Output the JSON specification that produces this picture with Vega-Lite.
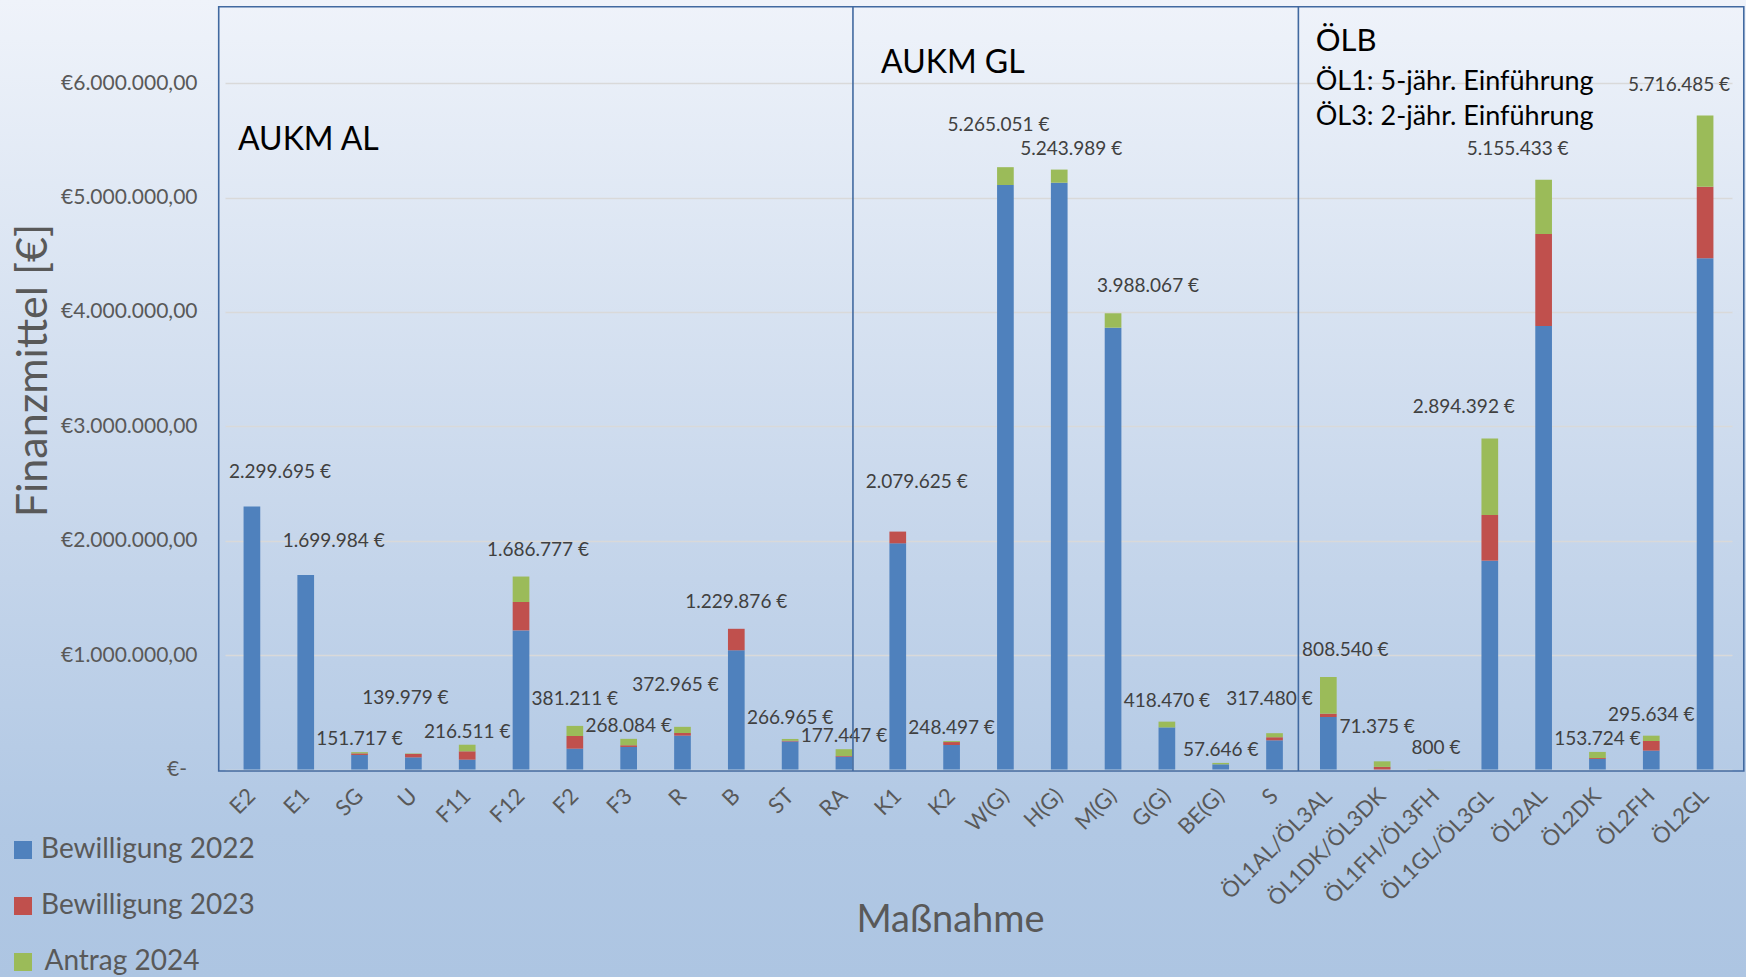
{
  "$schema": "https://vega.github.io/schema/vega-lite/v6.json",
  "width": 1746,
  "height": 977,
  "autosize": {"type": "none"},
  "padding": 0,
  "background": "#c6d6eb",
  "config": {
    "view": {
      "fill": {"gradient": "linear", "x1": 0, "y1": 0, "x2": 0, "y2": 1,
        "stops": [{"offset": 0, "color": "#eff3fa"}, {"offset": 0.55, "color": "#c6d6eb"}, {"offset": 0.85, "color": "#b1c8e4"}, {"offset": 1, "color": "#adc5e2"}]},
      "stroke": null
    },
    "locale": {"number": {"decimal": ",", "thousands": ".", "grouping": [3], "currency": ["", " €"]}},
    "font": "Lato",
    "text": {"baseline": "middle", "align": "center", "fontSize": 19, "fill": "#404040"}
  },
  "datasets": {
    "one": [{}],
    "bars": [
      {"m": "E2", "s": "Bewilligung 2022", "i": 1, "v": 2299695},
      {"m": "E1", "s": "Bewilligung 2022", "i": 1, "v": 1699984},
      {"m": "SG", "s": "Bewilligung 2022", "i": 1, "v": 127000},
      {"m": "SG", "s": "Bewilligung 2023", "i": 2, "v": 14000},
      {"m": "SG", "s": "Antrag 2024", "i": 3, "v": 10717},
      {"m": "U", "s": "Bewilligung 2022", "i": 1, "v": 106000},
      {"m": "U", "s": "Bewilligung 2023", "i": 2, "v": 30000},
      {"m": "U", "s": "Antrag 2024", "i": 3, "v": 3979},
      {"m": "F11", "s": "Bewilligung 2022", "i": 1, "v": 86000},
      {"m": "F11", "s": "Bewilligung 2023", "i": 2, "v": 73000},
      {"m": "F11", "s": "Antrag 2024", "i": 3, "v": 57511},
      {"m": "F12", "s": "Bewilligung 2022", "i": 1, "v": 1216000},
      {"m": "F12", "s": "Bewilligung 2023", "i": 2, "v": 248000},
      {"m": "F12", "s": "Antrag 2024", "i": 3, "v": 222777},
      {"m": "F2", "s": "Bewilligung 2022", "i": 1, "v": 182000},
      {"m": "F2", "s": "Bewilligung 2023", "i": 2, "v": 111000},
      {"m": "F2", "s": "Antrag 2024", "i": 3, "v": 88211},
      {"m": "F3", "s": "Bewilligung 2022", "i": 1, "v": 197000},
      {"m": "F3", "s": "Bewilligung 2023", "i": 2, "v": 15000},
      {"m": "F3", "s": "Antrag 2024", "i": 3, "v": 56084},
      {"m": "R", "s": "Bewilligung 2022", "i": 1, "v": 296000},
      {"m": "R", "s": "Bewilligung 2023", "i": 2, "v": 23000},
      {"m": "R", "s": "Antrag 2024", "i": 3, "v": 53965},
      {"m": "B", "s": "Bewilligung 2022", "i": 1, "v": 1042000},
      {"m": "B", "s": "Bewilligung 2023", "i": 2, "v": 187876},
      {"m": "ST", "s": "Bewilligung 2022", "i": 1, "v": 245000},
      {"m": "ST", "s": "Bewilligung 2023", "i": 2, "v": 6000},
      {"m": "ST", "s": "Antrag 2024", "i": 3, "v": 15965},
      {"m": "RA", "s": "Bewilligung 2022", "i": 1, "v": 112000},
      {"m": "RA", "s": "Bewilligung 2023", "i": 2, "v": 6000},
      {"m": "RA", "s": "Antrag 2024", "i": 3, "v": 59447},
      {"m": "K1", "s": "Bewilligung 2022", "i": 1, "v": 1977000},
      {"m": "K1", "s": "Bewilligung 2023", "i": 2, "v": 102625},
      {"m": "K2", "s": "Bewilligung 2022", "i": 1, "v": 214000},
      {"m": "K2", "s": "Bewilligung 2023", "i": 2, "v": 26000},
      {"m": "K2", "s": "Antrag 2024", "i": 3, "v": 8497},
      {"m": "W(G)", "s": "Bewilligung 2022", "i": 1, "v": 5109000},
      {"m": "W(G)", "s": "Antrag 2024", "i": 3, "v": 156051},
      {"m": "H(G)", "s": "Bewilligung 2022", "i": 1, "v": 5129000},
      {"m": "H(G)", "s": "Antrag 2024", "i": 3, "v": 114989},
      {"m": "M(G)", "s": "Bewilligung 2022", "i": 1, "v": 3862000},
      {"m": "M(G)", "s": "Antrag 2024", "i": 3, "v": 126067},
      {"m": "G(G)", "s": "Bewilligung 2022", "i": 1, "v": 368000},
      {"m": "G(G)", "s": "Antrag 2024", "i": 3, "v": 50470},
      {"m": "BE(G)", "s": "Bewilligung 2022", "i": 1, "v": 45000},
      {"m": "BE(G)", "s": "Antrag 2024", "i": 3, "v": 12646},
      {"m": "S", "s": "Bewilligung 2022", "i": 1, "v": 255000},
      {"m": "S", "s": "Bewilligung 2023", "i": 2, "v": 27000},
      {"m": "S", "s": "Antrag 2024", "i": 3, "v": 35480},
      {"m": "ÖL1AL/ÖL3AL", "s": "Bewilligung 2022", "i": 1, "v": 459000},
      {"m": "ÖL1AL/ÖL3AL", "s": "Bewilligung 2023", "i": 2, "v": 29000},
      {"m": "ÖL1AL/ÖL3AL", "s": "Antrag 2024", "i": 3, "v": 320540},
      {"m": "ÖL1DK/ÖL3DK", "s": "Bewilligung 2023", "i": 2, "v": 23000},
      {"m": "ÖL1DK/ÖL3DK", "s": "Antrag 2024", "i": 3, "v": 48375},
      {"m": "ÖL1FH/ÖL3FH", "s": "Antrag 2024", "i": 3, "v": 800},
      {"m": "ÖL1GL/ÖL3GL", "s": "Bewilligung 2022", "i": 1, "v": 1825500},
      {"m": "ÖL1GL/ÖL3GL", "s": "Bewilligung 2023", "i": 2, "v": 399000},
      {"m": "ÖL1GL/ÖL3GL", "s": "Antrag 2024", "i": 3, "v": 669892},
      {"m": "ÖL2AL", "s": "Bewilligung 2022", "i": 1, "v": 3877000},
      {"m": "ÖL2AL", "s": "Bewilligung 2023", "i": 2, "v": 804000},
      {"m": "ÖL2AL", "s": "Antrag 2024", "i": 3, "v": 474433},
      {"m": "ÖL2DK", "s": "Bewilligung 2022", "i": 1, "v": 92000},
      {"m": "ÖL2DK", "s": "Bewilligung 2023", "i": 2, "v": 8000},
      {"m": "ÖL2DK", "s": "Antrag 2024", "i": 3, "v": 53724},
      {"m": "ÖL2FH", "s": "Bewilligung 2022", "i": 1, "v": 165000},
      {"m": "ÖL2FH", "s": "Bewilligung 2023", "i": 2, "v": 84000},
      {"m": "ÖL2FH", "s": "Antrag 2024", "i": 3, "v": 46634},
      {"m": "ÖL2GL", "s": "Bewilligung 2022", "i": 1, "v": 4468000},
      {"m": "ÖL2GL", "s": "Bewilligung 2023", "i": 2, "v": 627000},
      {"m": "ÖL2GL", "s": "Antrag 2024", "i": 3, "v": 621485}
    ]
  },
  "layer": [
    {
      "data": {"name": "bars"},
      "mark": {"type": "bar"},
      "encoding": {
        "x": {
          "field": "m", "type": "nominal",
          "scale": {
            "domain": ["E2", "E1", "SG", "U", "F11", "F12", "F2", "F3", "R", "B", "ST", "RA", "K1", "K2", "W(G)", "H(G)", "M(G)", "G(G)", "BE(G)", "S", "ÖL1AL/ÖL3AL", "ÖL1DK/ÖL3DK", "ÖL1FH/ÖL3FH", "ÖL1GL/ÖL3GL", "ÖL2AL", "ÖL2DK", "ÖL2FH", "ÖL2GL"],
            "range": [225, 1732],
            "paddingInner": 0.69, "paddingOuter": 0.345, "align": 0.5
          },
          "axis": {
            "orient": "bottom", "offset": -206, "title": "Maßnahme",
            "titleFontSize": 38, "titleFontWeight": "normal", "titleColor": "#595959",
            "titleX": 950, "titleY": 149, "titleAlign": "center", "titleBaseline": "middle", "titleAnchor": null,
            "labelAngle": -45, "labelAlign": "right", "labelBaseline": "middle",
            "labelFontSize": 22, "labelColor": "#595959", "labelPadding": 21,
            "ticks": false, "domain": false, "grid": false, "labelOverlap": false
          }
        },
        "y": {
          "field": "v", "type": "quantitative", "stack": "zero",
          "scale": {"domain": [-1813800, 6726400], "nice": false, "zero": false},
          "axis": {
            "orient": "left", "offset": -225,
            "values": [0, 1000000, 2000000, 3000000, 4000000, 5000000, 6000000],
            "labelExpr": "datum.value == 0 ? '€-\u2002\u200b' : '€' + format(datum.value, ',.2f')",
            "labelFontSize": 21, "labelColor": "#595959", "labelPadding": 1535,
            "tickSize": -1507, "tickColor": "#d9d9d9", "tickWidth": 1.5,
            "domain": false, "grid": false, "zindex": 0,
            "title": "Finanzmittel [€]", "titleFontSize": 43, "titleFontWeight": "normal", "titleColor": "#595959",
            "titleX": -192, "titleY": 370, "titleAngle": -90, "titleAlign": "center", "titleBaseline": "middle", "titleAnchor": null
          }
        },
        "color": {
          "field": "s", "type": "nominal",
          "scale": {"domain": ["Bewilligung 2022", "Bewilligung 2023", "Antrag 2024"], "range": ["#4f81bd", "#c0504d", "#9bbb59"]},
          "legend": {
            "orient": "none", "legendX": 9, "legendY": 836, "title": null, "direction": "vertical",
            "symbolType": "square", "symbolSize": 324, "symbolStrokeWidth": 0, "symbolOpacity": 1,
            "labelExpr": "datum.label == 'Antrag 2024' ? '\u200b\u2009Antrag 2024' : datum.label",
            "labelFontSize": 28, "labelColor": "#595959", "labelOffset": 4, "labelLimit": 500, "rowPadding": 28, "padding": 0
          }
        },
        "order": {"field": "i", "type": "quantitative", "sort": "ascending"}
      }
    },
    {
      "data": {"name": "bars"},
      "transform": [{"filter": {"field": "m", "oneOf": ["SG", "F11", "F3", "RA", "K2", "BE(G)", "ÖL2DK"]}}],
      "mark": {"type": "text", "dy": -13},
      "encoding": {
        "x": {"field": "m", "type": "nominal"},
        "y": {"aggregate": "sum", "field": "v", "type": "quantitative"},
        "text": {"aggregate": "sum", "field": "v", "type": "quantitative", "format": "$,d"}
      }
    },
    {
      "data": {"name": "bars"},
      "transform": [{"filter": {"field": "m", "oneOf": ["ST", "G(G)", "ÖL1FH/ÖL3FH", "ÖL2FH"]}}],
      "mark": {"type": "text", "dy": -21},
      "encoding": {
        "x": {"field": "m", "type": "nominal"},
        "y": {"aggregate": "sum", "field": "v", "type": "quantitative"},
        "text": {"aggregate": "sum", "field": "v", "type": "quantitative", "format": "$,d"}
      }
    },
    {
      "data": {"name": "bars"},
      "transform": [{"filter": {"field": "m", "oneOf": ["H(G)"]}}],
      "mark": {"type": "text", "dy": -21, "dx": 12},
      "encoding": {
        "x": {"field": "m", "type": "nominal"},
        "y": {"aggregate": "sum", "field": "v", "type": "quantitative"},
        "text": {"aggregate": "sum", "field": "v", "type": "quantitative", "format": "$,d"}
      }
    },
    {
      "data": {"name": "bars"},
      "transform": [{"filter": {"field": "m", "oneOf": ["F2", "B"]}}],
      "mark": {"type": "text", "dy": -27},
      "encoding": {
        "x": {"field": "m", "type": "nominal"},
        "y": {"aggregate": "sum", "field": "v", "type": "quantitative"},
        "text": {"aggregate": "sum", "field": "v", "type": "quantitative", "format": "$,d"}
      }
    },
    {
      "data": {"name": "bars"},
      "transform": [{"filter": {"field": "m", "oneOf": ["F12", "ÖL1AL/ÖL3AL"]}}],
      "mark": {"type": "text", "dy": -27, "dx": 17},
      "encoding": {
        "x": {"field": "m", "type": "nominal"},
        "y": {"aggregate": "sum", "field": "v", "type": "quantitative"},
        "text": {"aggregate": "sum", "field": "v", "type": "quantitative", "format": "$,d"}
      }
    },
    {
      "data": {"name": "bars"},
      "transform": [{"filter": {"field": "m", "oneOf": ["M(G)"]}}],
      "mark": {"type": "text", "dy": -27, "dx": 35},
      "encoding": {
        "x": {"field": "m", "type": "nominal"},
        "y": {"aggregate": "sum", "field": "v", "type": "quantitative"},
        "text": {"aggregate": "sum", "field": "v", "type": "quantitative", "format": "$,d"}
      }
    },
    {
      "data": {"name": "bars"},
      "transform": [{"filter": {"field": "m", "oneOf": ["E2", "E1"]}}],
      "mark": {"type": "text", "dy": -34, "dx": 28},
      "encoding": {
        "x": {"field": "m", "type": "nominal"},
        "y": {"aggregate": "sum", "field": "v", "type": "quantitative"},
        "text": {"aggregate": "sum", "field": "v", "type": "quantitative", "format": "$,d"}
      }
    },
    {
      "data": {"name": "bars"},
      "transform": [{"filter": {"field": "m", "oneOf": ["ÖL1DK/ÖL3DK", "S"]}}],
      "mark": {"type": "text", "dy": -34, "dx": -5},
      "encoding": {
        "x": {"field": "m", "type": "nominal"},
        "y": {"aggregate": "sum", "field": "v", "type": "quantitative"},
        "text": {"aggregate": "sum", "field": "v", "type": "quantitative", "format": "$,d"}
      }
    },
    {
      "data": {"name": "bars"},
      "transform": [{"filter": {"field": "m", "oneOf": ["ÖL1GL/ÖL3GL", "ÖL2AL", "ÖL2GL"]}}],
      "mark": {"type": "text", "dy": -31, "dx": -26},
      "encoding": {
        "x": {"field": "m", "type": "nominal"},
        "y": {"aggregate": "sum", "field": "v", "type": "quantitative"},
        "text": {"aggregate": "sum", "field": "v", "type": "quantitative", "format": "$,d"}
      }
    },
    {
      "data": {"name": "bars"},
      "transform": [{"filter": {"field": "m", "oneOf": ["R", "W(G)"]}}],
      "mark": {"type": "text", "dy": -42, "dx": -7},
      "encoding": {
        "x": {"field": "m", "type": "nominal"},
        "y": {"aggregate": "sum", "field": "v", "type": "quantitative"},
        "text": {"aggregate": "sum", "field": "v", "type": "quantitative", "format": "$,d"}
      }
    },
    {
      "data": {"name": "bars"},
      "transform": [{"filter": {"field": "m", "oneOf": ["U"]}}],
      "mark": {"type": "text", "dy": -55, "dx": -8},
      "encoding": {
        "x": {"field": "m", "type": "nominal"},
        "y": {"aggregate": "sum", "field": "v", "type": "quantitative"},
        "text": {"aggregate": "sum", "field": "v", "type": "quantitative", "format": "$,d"}
      }
    },
    {
      "data": {"name": "bars"},
      "transform": [{"filter": {"field": "m", "oneOf": ["K1"]}}],
      "mark": {"type": "text", "dy": -50, "dx": 19},
      "encoding": {
        "x": {"field": "m", "type": "nominal"},
        "y": {"aggregate": "sum", "field": "v", "type": "quantitative"},
        "text": {"aggregate": "sum", "field": "v", "type": "quantitative", "format": "$,d"}
      }
    },
    {
      "data": {"name": "one"},
      "mark": {"type": "rect", "fill": "#ffffff", "fillOpacity": 0, "stroke": "#4169a0", "strokeWidth": 1.6},
      "encoding": {
        "x": {"datum": "E2", "type": "nominal", "bandPosition": -1.49},
        "x2": {"datum": "ÖL2GL", "bandPosition": 2.82},
        "y": {"datum": 6668000, "type": "quantitative"},
        "y2": {"datum": -13100}
      }
    },
    {
      "data": {"name": "one"},
      "mark": {"type": "rule", "stroke": "#4169a0", "strokeWidth": 1.6},
      "encoding": {
        "x": {"datum": "RA", "type": "nominal", "bandPosition": 1.04},
        "y": {"datum": 6668000, "type": "quantitative"},
        "y2": {"datum": -13100}
      }
    },
    {
      "data": {"name": "one"},
      "mark": {"type": "rule", "stroke": "#4169a0", "strokeWidth": 1.6},
      "encoding": {
        "x": {"datum": "S", "type": "nominal", "bandPosition": 1.93},
        "y": {"datum": 6668000, "type": "quantitative"},
        "y2": {"datum": -13100}
      }
    },
    {
      "data": {"name": "one"},
      "mark": {"type": "text", "align": "left", "dx": -5.6, "fontSize": 32, "fill": "#000000", "text": "AUKM AL"},
      "encoding": {
        "x": {"datum": "E2", "type": "nominal", "bandPosition": 0},
        "y": {"datum": 5503000, "type": "quantitative"}
      }
    },
    {
      "data": {"name": "one"},
      "mark": {"type": "text", "align": "left", "dx": -8.4, "fontSize": 32, "fill": "#000000", "text": "AUKM GL"},
      "encoding": {
        "x": {"datum": "K1", "type": "nominal", "bandPosition": 0},
        "y": {"datum": 6176000, "type": "quantitative"}
      }
    },
    {
      "data": {"name": "one"},
      "mark": {"type": "text", "align": "left", "dx": -4.3, "fontSize": 31, "fill": "#000000", "text": "ÖLB"},
      "encoding": {
        "x": {"datum": "ÖL1AL/ÖL3AL", "type": "nominal", "bandPosition": 0},
        "y": {"datum": 6359000, "type": "quantitative"}
      }
    },
    {
      "data": {"name": "one"},
      "mark": {"type": "text", "align": "left", "dx": -4.3, "fontSize": 27, "fill": "#000000", "text": "ÖL1: 5-jähr. Einführung"},
      "encoding": {
        "x": {"datum": "ÖL1AL/ÖL3AL", "type": "nominal", "bandPosition": 0},
        "y": {"datum": 6010000, "type": "quantitative"}
      }
    },
    {
      "data": {"name": "one"},
      "mark": {"type": "text", "align": "left", "dx": -4.3, "fontSize": 27, "fill": "#000000", "text": "ÖL3: 2-jähr. Einführung"},
      "encoding": {
        "x": {"datum": "ÖL1AL/ÖL3AL", "type": "nominal", "bandPosition": 0},
        "y": {"datum": 5704000, "type": "quantitative"}
      }
    }
  ]
}
